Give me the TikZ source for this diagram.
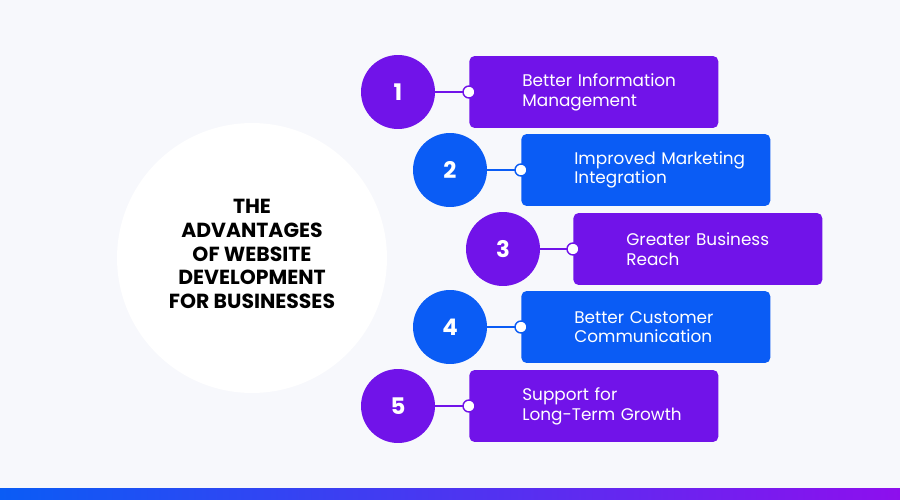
\documentclass[tikz,border=0pt]{standalone}
\usepackage{fontspec}
\setmainfont{Poppins}
\definecolor{bgpage}{HTML}{F7F8FC}
\definecolor{violet}{HTML}{7113E9}
\definecolor{azure}{HTML}{0A5CF5}
\tikzset{
  px/.style={x=0.02cm, y=-0.02cm},
  num/.style={circle, minimum size=1.48cm, inner sep=0pt, text=white, font=\bfseries\fontsize{13}{13}\selectfont},
  card/.style={rounded corners=3pt, minimum width=4.98cm, minimum height=1.44cm, anchor=west, text=white,
    align=left, text width=4.1cm, inner sep=0pt, font=\fontsize{9.6}{11.2}\selectfont},
  link/.style={line width=0.8pt},
  dot/.style={circle, fill=white, draw, line width=0.8pt, minimum size=0.24cm, inner sep=0pt},
}
\begin{document}
\begin{tikzpicture}[px]
  \fill[bgpage] (0,0) rectangle (900,500);
  \useasboundingbox (0,0) rectangle (900,500);
  % bottom bar
  \shade[left color=azure, right color=violet!80!magenta] (0,488) rectangle (900,500);
  % title disc
  \node[circle, fill=white, minimum size=5.4cm, inner sep=0pt] (title) at (252,258) {};
  \node[align=center, font=\bfseries\fontsize{11.6}{13.6}\selectfont] (titletxt) at (252,254)
    {THE\\ADVANTAGES\\OF WEBSITE\\DEVELOPMENT\\FOR BUSINESSES};
  % items
  \foreach \i/\cx/\cy/\bx/\col/\txt in {
      1/398/92/469/violet/{Better Information Management},
      2/450/170/521/azure/{Improved Marketing Integration},
      3/503/249/573/violet/{Greater Business Reach},
      4/450/327/521/azure/{Better Customer Communication},
      5/398/406/469/violet/{Support for Long-Term Growth}}{
    \node[num, fill=\col] (n\i) at (\cx,\cy) {\i};
    \node[card, fill=\col] (c\i) at (\bx,\cy) {\hspace*{0.62cm}\parbox{3.6cm}{\raggedright\txt}};
    \coordinate (k\i) at (\bx,\cy);
    \draw[link, \col] (n\i) -- (k\i);
    \node[dot, draw=\col] (d\i) at (k\i) {};
  }
\end{tikzpicture}
\end{document}
